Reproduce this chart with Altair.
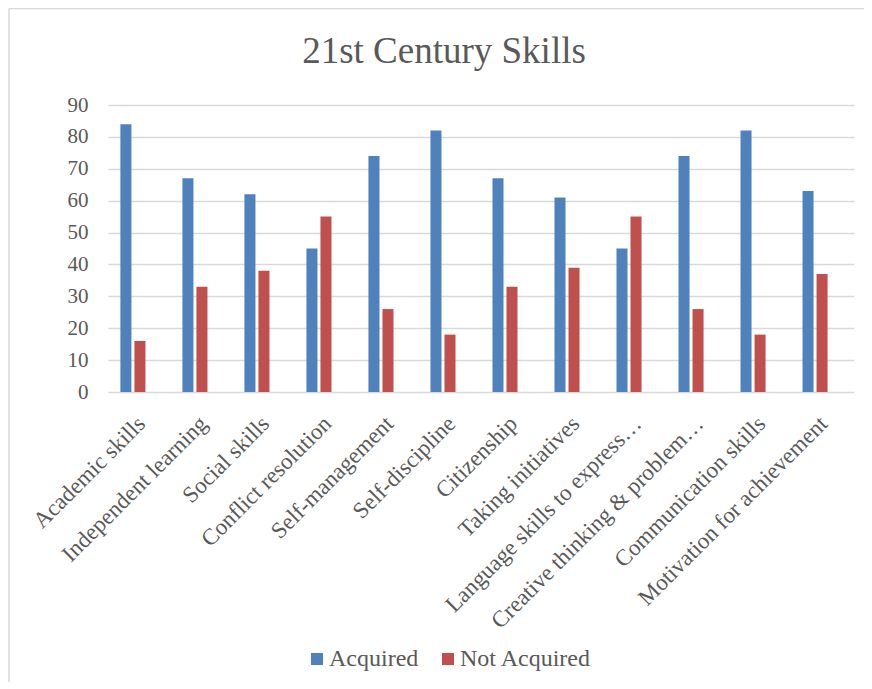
import altair as alt
import pandas as pd

categories = [
    "Academic skills", "Independent learning", "Social skills", "Conflict resolution",
    "Self-management", "Self-discipline", "Citizenship", "Taking initiatives",
    "Language skills to express…", "Creative thinking & problem…",
    "Communication skills", "Motivation for achievement",
]
acquired = [84, 67, 62, 45, 74, 82, 67, 61, 45, 74, 82, 63]
not_acquired = [16, 33, 38, 55, 26, 18, 33, 39, 55, 26, 18, 37]
series = ["Acquired", "Not Acquired"]
colors = ["#4F81BD", "#C0504D"]
y_ticks = [0, 10, 20, 30, 40, 50, 60, 70, 80, 90]
title_text = ["21st Century Skills"]

rows = []
for c, a, n in zip(categories, acquired, not_acquired):
    rows.append({"skill": c, "series": series[0], "value": a})
    rows.append({"skill": c, "series": series[1], "value": n})
df = pd.DataFrame(rows)

FONT = "Liberation Serif, Times New Roman, serif"
GRAY = "#595959"

bars = alt.Chart(df).mark_bar().encode(
    x=alt.X("skill:N", sort=categories, title=None,
            scale=alt.Scale(paddingInner=0.37, paddingOuter=0.2),
            axis=alt.Axis(labelAngle=-45, labelFont=FONT, labelFontSize=23,
                          labelColor=GRAY, labelLimit=400, ticks=False,
                          domain=False, labelPadding=20, labelOffset=-6)),
    xOffset=alt.XOffset("series:N",
                        scale=alt.Scale(domain=series + ["(blank)"],
                                        paddingInner=0.214, paddingOuter=0)),
    y=alt.Y("value:Q", title=None,
            scale=alt.Scale(domain=[0, 90], nice=False),
            axis=alt.Axis(values=y_ticks, labelFont=FONT, labelFontSize=21,
                          labelColor=GRAY, ticks=False, domain=False,
                          labelPadding=20, gridColor="#d9d9d9", gridWidth=1.3)),
    color=alt.Color("series:N", scale=alt.Scale(domain=series, range=colors),
                    legend=alt.Legend(title=None, orient="none", direction="horizontal",
                                      legendX=197, legendY=542, symbolType="square",
                                      symbolSize=144, labelFont=FONT, labelFontSize=24,
                                      labelColor=GRAY, columnPadding=17,
                                      symbolStrokeWidth=0, labelOffset=0, padding=0)),
)

title = alt.Chart(pd.DataFrame({"t": title_text})).mark_text(
    font=FONT, fontSize=37, color=GRAY, align="center", baseline="alphabetic"
).encode(text="t:N", x=alt.value(336), y=alt.value(-42))

border_top = alt.Chart().mark_rule(color="#d9d9d9", strokeWidth=1.5).encode(
    x=alt.value(-99), x2=alt.value(770), y=alt.value(-96.5))
border_left = alt.Chart().mark_rule(color="#d9d9d9", strokeWidth=1.5).encode(
    x=alt.value(-99), y=alt.value(-96.5), y2=alt.value(590))

chart = alt.layer(border_top, border_left, bars, title).properties(
    width=746, height=287,
    autosize=alt.AutoSizeParams(type="none"),
    padding={"left": 100, "top": 97, "right": 10, "bottom": 290},
    background="white",
).configure(font=FONT).configure_view(stroke=None)

chart.save("out.html", embed_options={"renderer": "svg", "actions": False})
